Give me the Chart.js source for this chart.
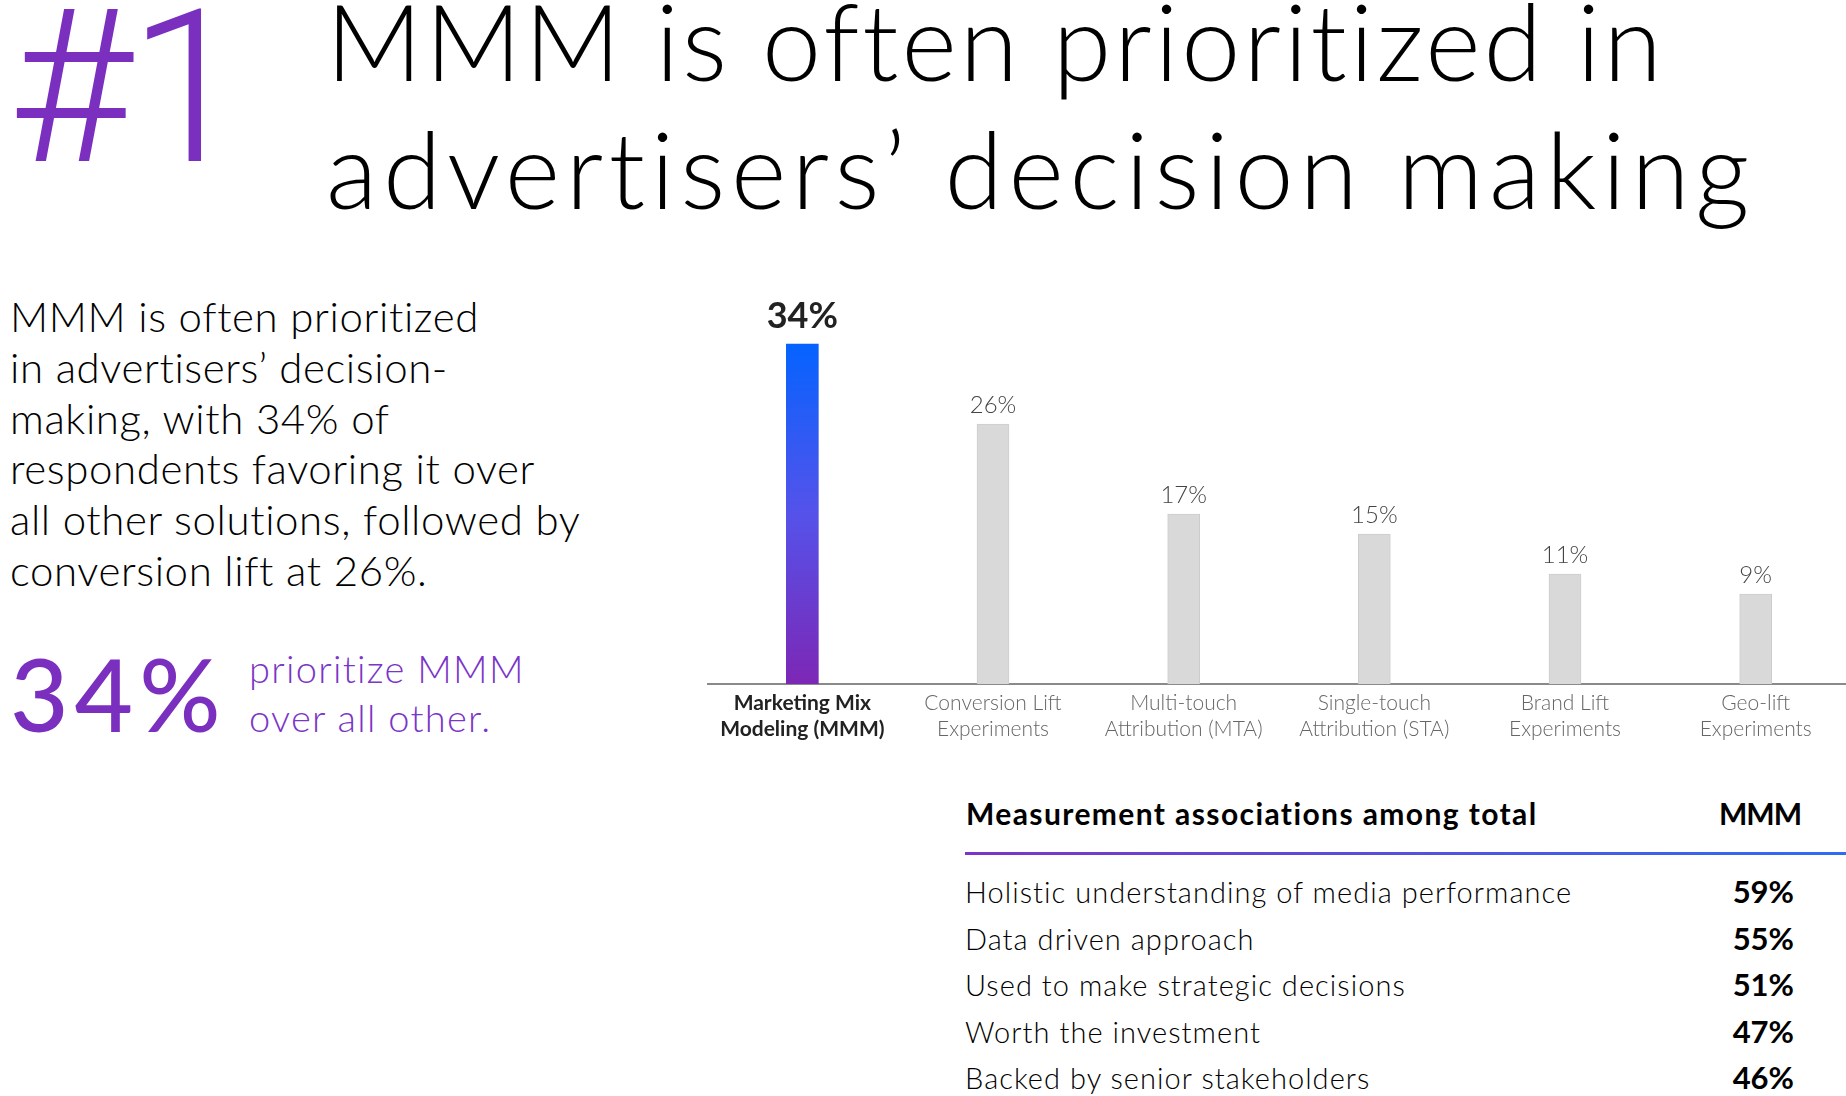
<!DOCTYPE html>
<html lang="en">

<head>
    <meta charset="UTF-8">
    <title>MMM is often prioritized in advertisers' decision making</title>
    <script src="https://cdn.jsdelivr.net/npm/chart.js"></script>
    <style>
        html, body { margin: 0; padding: 0; background: #fff; }
        body { width: 1846px; height: 1096px; overflow: hidden; position: relative; font-family: 'Lato', sans-serif; color: #000; }
        .abs { position: absolute; white-space: nowrap; line-height: 1.2; }
        .rank { left: 8px; top: -40px; font-family: 'Roboto', 'Lato', sans-serif; font-size: 214px; font-weight: 300; color: #7b2fbf; letter-spacing: -4px; }
        .title { left: 326px; font-size: 106px; font-weight: 300; }
        .intro { left: 10px; top: 291px; font-size: 42px; font-weight: 300; line-height: 50.8px; letter-spacing: 0.6px; }
        .big { left: 10px; top: 633px; font-size: 101px; font-weight: 500; color: #7b2fbf; letter-spacing: 6px; }
        .note { left: 249px; top: 644px; font-size: 38px; font-weight: 300; line-height: 49px; color: #7b35c8; letter-spacing: 1.3px; }
        .chart-box { position: absolute; left: 707px; top: 280px; width: 1144px; height: 480px; }
        .thead { font-size: 30px; font-weight: 700; letter-spacing: 1.4px; }
        .rule { position: absolute; left: 965px; right: 0; top: 852px; height: 3px; background: linear-gradient(90deg, #7b35c8, #2f6cf2); }
        .row { font-size: 29px; font-weight: 300; letter-spacing: 1.05px; }
        .val { font-size: 31px; font-weight: 700; text-align: right; }
    </style>
</head>

<body>
    <div class="abs rank">#1</div>
    <div class="abs title" style="top:-23px; letter-spacing:3px">MMM is often prioritized in</div>
    <div class="abs title" style="top:105px; letter-spacing:5.7px">advertisers’ decision making</div>

    <div class="abs intro">MMM is often prioritized<br>in advertisers’ decision-<br>making, with 34% of<br>respondents favoring it over<br>all other solutions, followed by<br>conversion lift at 26%.</div>

    <div class="abs big">34%</div>
    <div class="abs note">prioritize MMM<br>over all other.</div>

    <div class="chart-box"><canvas id="myChart"></canvas></div>

    <div class="abs thead" style="left:966px; top:795px">Measurement associations among total</div>
    <div class="abs thead" style="right:45px; top:795px; letter-spacing:-1px">MMM</div>
    <div class="rule"></div>
    <div id="rows"></div>

    <script>
        // chart data
        const categories = [
            ['Marketing Mix', 'Modeling (MMM)'],
            ['Conversion Lift', 'Experiments'],
            ['Multi-touch', 'Attribution (MTA)'],
            ['Single-touch', 'Attribution (STA)'],
            ['Brand Lift', 'Experiments'],
            ['Geo-lift', 'Experiments'],
        ];
        const shares = [34, 26, 17, 15, 11, 9];

        // table data
        const associations = [
            'Holistic understanding of media performance',
            'Data driven approach',
            'Used to make strategic decisions',
            'Worth the investment',
            'Backed by senior stakeholders',
        ];
        const associationShares = [59, 55, 51, 47, 46];

        // build table rows
        const rows = document.getElementById('rows');
        associations.forEach((text, i) => {
            const top = 904 + i * 46.5 - 28.6;
            rows.insertAdjacentHTML('beforeend',
                `<div class="abs row" style="left:965px; top:${top}px">${text}</div>` +
                `<div class="abs val" style="right:52px; top:${top - 2}px">${associationShares[i]}%</div>`);
        });

        // value labels above bars
        const valueLabels = {
            id: 'valueLabels',
            afterDatasetsDraw(chart) {
                const ctx = chart.ctx;
                const meta = chart.getDatasetMeta(0);
                ctx.save();
                ctx.textAlign = 'center';
                ctx.textBaseline = 'alphabetic';
                meta.data.forEach((bar, i) => {
                    if (i === 0) {
                        ctx.font = '700 36px Lato';
                        ctx.fillStyle = '#222';
                        ctx.fillText(shares[i] + '%', bar.x, bar.y - 16);
                    } else {
                        ctx.font = '300 24px Lato';
                        ctx.fillStyle = '#444';
                        ctx.fillText(shares[i] + '%', bar.x, bar.y - 11);
                    }
                });
                ctx.restore();
            }
        };

        const ctx = document.getElementById('myChart').getContext('2d');

        new Chart(ctx, {
            type: 'bar',
            data: {
                labels: categories,
                datasets: [{
                    data: shares,
                    barThickness: 32,
                    backgroundColor: function (c) {
                        if (c.dataIndex !== 0) return '#d9d9d9';
                        const chart = c.chart;
                        if (!chart.chartArea) return '#4a55ee';
                        const y = chart.scales.y;
                        const g = chart.ctx.createLinearGradient(0, y.getPixelForValue(shares[0]), 0, y.getPixelForValue(0));
                        g.addColorStop(0, '#0563ff');
                        g.addColorStop(0.5, '#5552ea');
                        g.addColorStop(1, '#7d27b5');
                        return g;
                    },
                    borderColor: '#cccccc',
                    borderWidth: c => c.dataIndex === 0 ? 0 : 1,
                    borderSkipped: 'bottom',
                }],
            },
            options: {
                responsive: true,
                maintainAspectRatio: false,
                animation: false,
                layout: { padding: 0 },
                plugins: {
                    legend: { display: false },
                    tooltip: { enabled: false },
                },
                scales: {
                    x: {
                        grid: { display: false, drawTicks: false },
                        border: { display: true, color: '#8a8a8a', width: 2 },
                        afterFit: s => { s.height = 76; },
                        ticks: {
                            padding: 7,
                            maxRotation: 0,
                            autoSkip: false,
                            color: c => c.index === 0 ? '#222' : '#666',
                            font: c => ({
                                family: 'Lato',
                                size: 21,
                                weight: c.index === 0 ? '700' : '300',
                                lineHeight: 1.2,
                            }),
                        },
                    },
                    y: {
                        display: false,
                        min: 0,
                        max: 40.4,
                    },
                },
            },
            plugins: [valueLabels],
        });
    </script>
</body>

</html>
